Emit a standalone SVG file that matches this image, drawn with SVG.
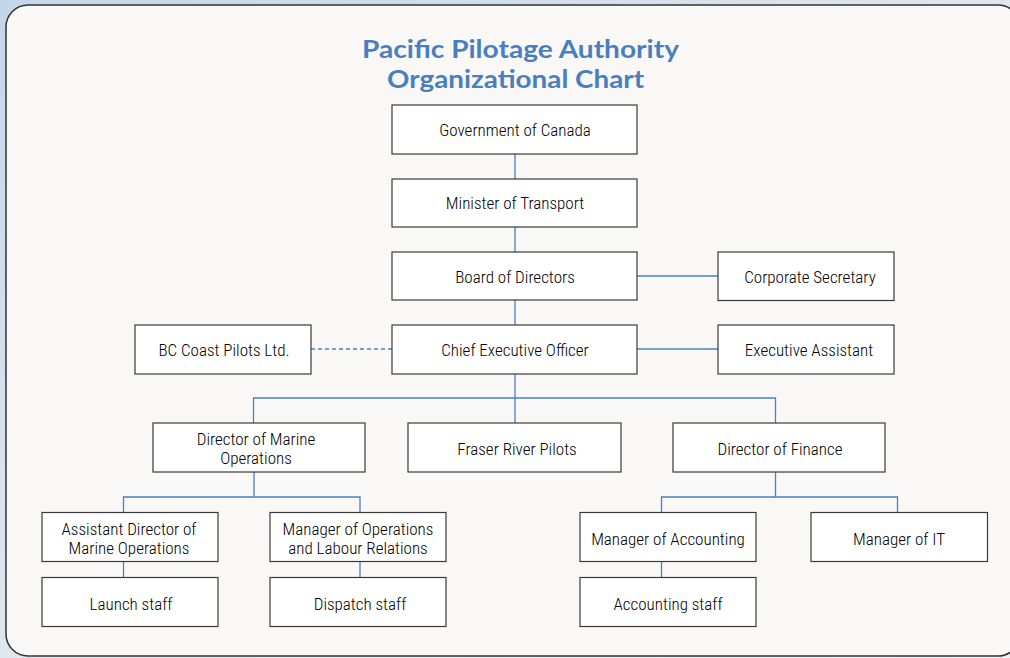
<svg xmlns="http://www.w3.org/2000/svg" width="1010" height="658" viewBox="0 0 1010 658">
  <defs>
    <linearGradient id="bg" x1="0" y1="0" x2="1" y2="1">
      <stop offset="0" stop-color="#c4d6e8"/>
      <stop offset="0.5" stop-color="#dfe7ef"/>
      <stop offset="1" stop-color="#eef1f4"/>
    </linearGradient>
    <style>
      .box { fill: #ffffff; stroke: #3a3a3a; stroke-width: 1.2; }
      .lbl { font-family: "Liberation Sans Narrow", "Roboto Condensed", "Liberation Sans", sans-serif; font-weight: 300; font-size: 17px; fill: #000000; text-anchor: middle; }
      .title { font-family: "Lato", "Open Sans", "Liberation Sans", sans-serif; font-weight: 700; font-size: 25px; fill: #4a7fbf; text-anchor: middle; }
      .link { fill: none; stroke: #4a80c4; stroke-width: 1.3; }
      .dash { stroke-dasharray: 4 3; }
    </style>
  </defs>

  <!-- backdrop and panel -->
  <rect x="0" y="0" width="1010" height="658" fill="url(#bg)"/>
  <rect x="6" y="5" width="1014" height="651" rx="22" ry="22" fill="#f9f8f6" stroke="#333333" stroke-width="1.5"/>

  <text class="title" x="520.5" y="58" textLength="317" lengthAdjust="spacingAndGlyphs">Pacific Pilotage Authority</text>
  <text class="title" x="515.5" y="87.5" textLength="257" lengthAdjust="spacingAndGlyphs">Organizational Chart</text>

  <!-- connectors -->
  <g id="connectors">
    <path class="link" d="M515 154 V179 M515 227 V252 M515 300 V325"/>
    <path class="link" d="M637 276 H718"/>
    <path class="link" d="M637 349 H718"/>
    <path class="link dash" d="M311 349 H392"/>
    <path class="link" d="M515 374 V423 M253.5 423 V398 H775.5 V423"/>
    <path class="link" d="M254 472 V497 M123.5 512 V497 H360 V512"/>
    <path class="link" d="M775.5 472 V497 M661.5 512 V497 H897.5 V512"/>
    <path class="link" d="M123.5 561 V577 M360 561 V577 M661.5 561 V577"/>
  </g>

  <g id="gov">
    <rect class="box" x="392" y="105" width="245" height="49"/>
    <text class="lbl" x="515" y="136">Government of Canada</text>
  </g>
  <g id="minister">
    <rect class="box" x="392" y="179" width="245" height="48"/>
    <text class="lbl" x="515" y="209">Minister of Transport</text>
  </g>
  <g id="board">
    <rect class="box" x="392" y="252" width="245" height="48"/>
    <text class="lbl" x="515" y="282.5">Board of Directors</text>
  </g>
  <g id="corpsec">
    <rect class="box" x="718" y="252" width="176" height="48.5"/>
    <text class="lbl" x="810" y="282.5">Corporate Secretary</text>
  </g>
  <g id="ceo">
    <rect class="box" x="392" y="325" width="245" height="49"/>
    <text class="lbl" x="515" y="356">Chief Executive Officer</text>
  </g>
  <g id="bccp">
    <rect class="box" x="135" y="325" width="176" height="49"/>
    <text class="lbl" x="224" y="356">BC Coast Pilots Ltd.</text>
  </g>
  <g id="execasst">
    <rect class="box" x="718" y="325" width="176" height="49"/>
    <text class="lbl" x="809" y="356">Executive Assistant</text>
  </g>
  <g id="dmo">
    <rect class="box" x="153" y="423" width="212" height="49"/>
    <text class="lbl" x="256" y="445">Director of Marine</text>
    <text class="lbl" x="256" y="464">Operations</text>
  </g>
  <g id="frp">
    <rect class="box" x="408" y="423" width="213" height="49"/>
    <text class="lbl" x="517" y="455">Fraser River Pilots</text>
  </g>
  <g id="dof">
    <rect class="box" x="673" y="423" width="212" height="49"/>
    <text class="lbl" x="780" y="455">Director of Finance</text>
  </g>
  <g id="adm">
    <rect class="box" x="42" y="512.5" width="176" height="49"/>
    <text class="lbl" x="129" y="535">Assistant Director of</text>
    <text class="lbl" x="129" y="554">Marine Operations</text>
  </g>
  <g id="mol">
    <rect class="box" x="270" y="512.5" width="176" height="49"/>
    <text class="lbl" x="358" y="535">Manager of Operations</text>
    <text class="lbl" x="358" y="554">and Labour Relations</text>
  </g>
  <g id="launch">
    <rect class="box" x="42" y="577.5" width="176" height="49"/>
    <text class="lbl" x="131" y="609.5">Launch staff</text>
  </g>
  <g id="dispatch">
    <rect class="box" x="270" y="577.5" width="176" height="49"/>
    <text class="lbl" x="360" y="609.5">Dispatch staff</text>
  </g>
  <g id="macc">
    <rect class="box" x="580" y="512.5" width="176" height="49"/>
    <text class="lbl" x="668" y="544.5">Manager of Accounting</text>
  </g>
  <g id="mit">
    <rect class="box" x="811" y="512.5" width="176.5" height="49"/>
    <text class="lbl" x="899" y="544.5">Manager of IT</text>
  </g>
  <g id="accstaff">
    <rect class="box" x="580" y="577.5" width="176" height="49"/>
    <text class="lbl" x="668" y="609.5">Accounting staff</text>
  </g>
</svg>
